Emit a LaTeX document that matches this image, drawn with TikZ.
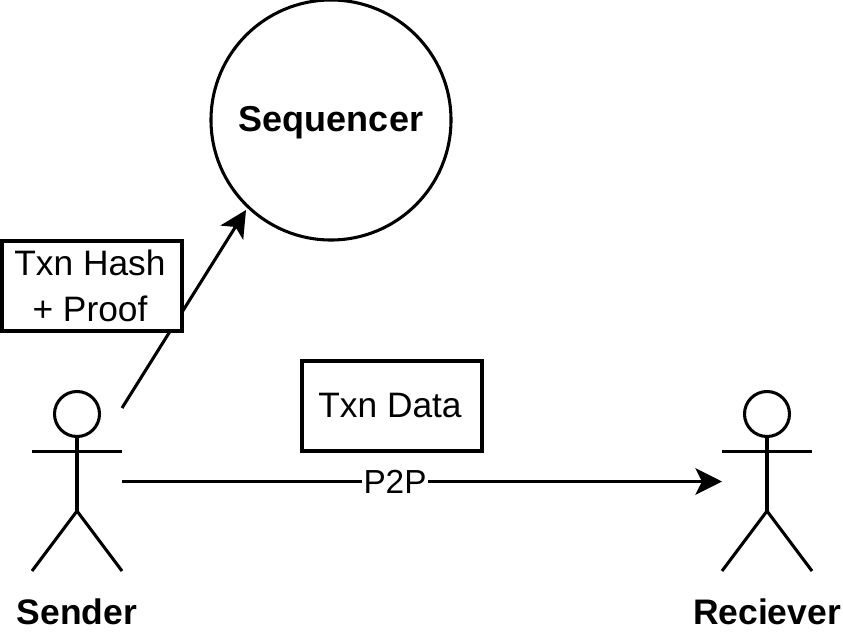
\documentclass[tikz,border=0pt]{standalone}
\usepackage{fontspec}
\setmainfont{Liberation Sans}
\usetikzlibrary{arrows.meta}
\tikzset{
  ln/.style={draw=black,line width=2.3pt},
  conn/.style={ln,-{Stealth[length=20pt,width=20pt,inset=5pt]}},
  title/.style={font=\fontsize{26.6pt}{30pt}\selectfont\bfseries,inner sep=0pt},
  lbl/.style={font=\fontsize{26.5pt}{34.5pt}\selectfont,inner sep=0pt,align=center}
}
\begin{document}
\begin{tikzpicture}[x=0.75pt,y=-0.75pt]
\useasboundingbox (0,0) rectangle (843,636);
\node[ln,circle,minimum size=180pt,inner sep=0pt,title,font=\fontsize{27pt}{30pt}\selectfont\bfseries] (seq) at (331,120) {\smash{\raisebox{-8.25pt}{Sequencer}}};
% actors
\draw[ln] (77,414) circle[radius=22.5];
\draw[ln] (77,436.5) -- (77,511);
\draw[ln] (32,451.5) -- (122,451.5);
\draw[ln] (32,571) -- (77,511) -- (122,571);
\draw[ln] (767,414) circle[radius=22.5];
\draw[ln] (767,436.5) -- (767,511);
\draw[ln] (722,451.5) -- (812,451.5);
\draw[ln] (722,571) -- (767,511) -- (812,571);
\coordinate (sa) at (122,481.5);
\coordinate (sb) at (122,408);
\coordinate (ra) at (722,481.5);
\coordinate (sq) at (246,210);
\draw[conn] (sb) -- (sq);
\draw[conn] (sa) -- node[pos=0.455,fill=white,inner sep=1pt,font=\fontsize{25pt}{27pt}\selectfont]{P2P} (ra);
\node[ln,fill=white,minimum width=135pt,minimum height=67.5pt,lbl] (hash) at (92,286) {Txn Hash\kern 3pt\\+ Proof\kern 3pt};
\node[ln,minimum width=135pt,minimum height=67.5pt,lbl] (data) at (392,406) {Txn Data\kern 3pt};
\node[title] (sender) at (77,612) {Sender};
\node[title] (recv) at (767,612) {Reciever};
\end{tikzpicture}
\end{document}
